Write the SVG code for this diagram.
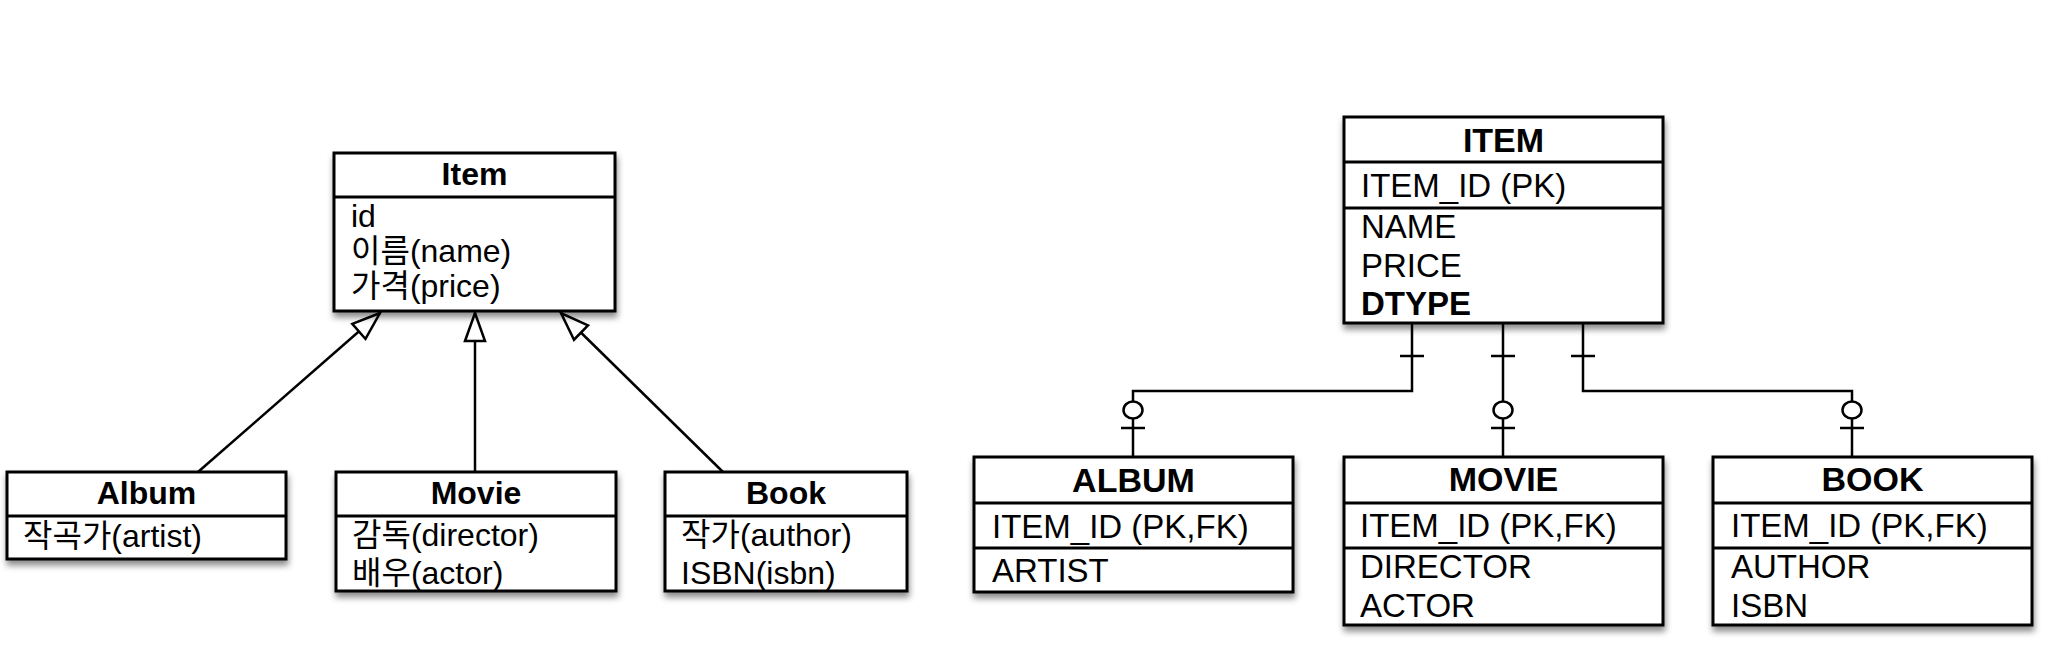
<svg xmlns="http://www.w3.org/2000/svg" width="2054" height="668" viewBox="0 0 2054 668">
<defs>
<style>
.box{fill:#fff;stroke:#000;stroke-width:3}
.sep{stroke:#000;stroke-width:3}
.t{font-family:"Liberation Sans","Noto Sans CJK KR",sans-serif;font-size:32px;fill:#000}
.h{font-weight:bold;text-anchor:middle}
.er{font-size:33px}
.erh{font-size:34px}
.conn{fill:none;stroke:#000;stroke-width:2.5}
.bar{stroke:#000;stroke-width:2.5}
.opt{fill:#fff;stroke:#000;stroke-width:2.5}
</style>
<filter id="sh" x="-10%" y="-10%" width="125%" height="135%">
<feDropShadow dx="1" dy="5" stdDeviation="3" flood-color="#000" flood-opacity="0.45"/>
</filter>
<marker id="tri" markerUnits="userSpaceOnUse" markerWidth="32" markerHeight="24" viewBox="0 0 32 24" refX="30" refY="12" orient="auto">
<path d="M2,2 L30,12 L2,22 Z" fill="#fff" stroke="#000" stroke-width="2.5"/>
</marker>
</defs>
<rect width="2054" height="668" fill="#fff"/>

<g id="connectors">
<line class="conn" x1="198" y1="472" x2="380" y2="313" marker-end="url(#tri)"/>
<line class="conn" x1="475" y1="472" x2="475" y2="313" marker-end="url(#tri)"/>
<line class="conn" x1="723" y1="472" x2="561" y2="313" marker-end="url(#tri)"/>

<path class="conn" d="M1412,323 V391 H1133 V457"/>
<line class="bar" x1="1400" y1="356" x2="1424" y2="356"/>
<ellipse class="opt" cx="1133" cy="410" rx="9.5" ry="8.5"/>
<line class="bar" x1="1121" y1="428" x2="1145" y2="428"/>

<path class="conn" d="M1503,323 V457"/>
<line class="bar" x1="1491" y1="356" x2="1515" y2="356"/>
<ellipse class="opt" cx="1503" cy="410" rx="9.5" ry="8.5"/>
<line class="bar" x1="1491" y1="428" x2="1515" y2="428"/>

<path class="conn" d="M1583,323 V391 H1852 V457"/>
<line class="bar" x1="1571" y1="356" x2="1595" y2="356"/>
<ellipse class="opt" cx="1852" cy="410" rx="9.5" ry="8.5"/>
<line class="bar" x1="1840" y1="428" x2="1864" y2="428"/>
</g>

<g id="item-class">
<rect class="box" x="334" y="153" width="281" height="158" filter="url(#sh)"/>
<line class="sep" x1="334" y1="197" x2="615" y2="197"/>
<text class="t h" x="474.5" y="185">Item</text>
<text class="t" x="351" y="227">id</text>
<text class="t" x="351" y="262">이름(name)</text>
<text class="t" x="351" y="297">가격(price)</text>
</g>

<g id="album-class">
<rect class="box" x="7" y="472" width="279" height="87" filter="url(#sh)"/>
<line class="sep" x1="7" y1="516" x2="286" y2="516"/>
<text class="t h" x="146.5" y="504">Album</text>
<text class="t" x="23" y="547">작곡가(artist)</text>
</g>

<g id="movie-class">
<rect class="box" x="336" y="472" width="280" height="119" filter="url(#sh)"/>
<line class="sep" x1="336" y1="516" x2="616" y2="516"/>
<text class="t h" x="476" y="504">Movie</text>
<text class="t" x="352" y="546">감독(director)</text>
<text class="t" x="352" y="584">배우(actor)</text>
</g>

<g id="book-class">
<rect class="box" x="665" y="472" width="242" height="119" filter="url(#sh)"/>
<line class="sep" x1="665" y1="516" x2="907" y2="516"/>
<text class="t h" x="786" y="504">Book</text>
<text class="t" x="681" y="546">작가(author)</text>
<text class="t" x="681" y="584">ISBN(isbn)</text>
</g>

<g id="item-table">
<rect class="box" x="1344" y="117" width="319" height="206" filter="url(#sh)"/>
<line class="sep" x1="1344" y1="162" x2="1663" y2="162"/>
<line class="sep" x1="1344" y1="208" x2="1663" y2="208"/>
<text class="t h erh" x="1503.5" y="152">ITEM</text>
<text class="t er" x="1361" y="197">ITEM_ID (PK)</text>
<text class="t er" x="1361" y="238">NAME</text>
<text class="t er" x="1361" y="277">PRICE</text>
<text class="t er" x="1361" y="315" font-weight="bold">DTYPE</text>
</g>

<g id="album-table">
<rect class="box" x="974" y="457" width="319" height="135" filter="url(#sh)"/>
<line class="sep" x1="974" y1="503" x2="1293" y2="503"/>
<line class="sep" x1="974" y1="548" x2="1293" y2="548"/>
<text class="t h erh" x="1133.5" y="492">ALBUM</text>
<text class="t er" x="992" y="538">ITEM_ID (PK,FK)</text>
<text class="t er" x="992" y="582">ARTIST</text>
</g>

<g id="movie-table">
<rect class="box" x="1344" y="457" width="319" height="168" filter="url(#sh)"/>
<line class="sep" x1="1344" y1="503" x2="1663" y2="503"/>
<line class="sep" x1="1344" y1="548" x2="1663" y2="548"/>
<text class="t h erh" x="1503.5" y="491">MOVIE</text>
<text class="t er" x="1360" y="537">ITEM_ID (PK,FK)</text>
<text class="t er" x="1360" y="578">DIRECTOR</text>
<text class="t er" x="1360" y="617">ACTOR</text>
</g>

<g id="book-table">
<rect class="box" x="1713" y="457" width="319" height="168" filter="url(#sh)"/>
<line class="sep" x1="1713" y1="503" x2="2032" y2="503"/>
<line class="sep" x1="1713" y1="548" x2="2032" y2="548"/>
<text class="t h erh" x="1872.5" y="491">BOOK</text>
<text class="t er" x="1731" y="537">ITEM_ID (PK,FK)</text>
<text class="t er" x="1731" y="578">AUTHOR</text>
<text class="t er" x="1731" y="617">ISBN</text>
</g>
</svg>
